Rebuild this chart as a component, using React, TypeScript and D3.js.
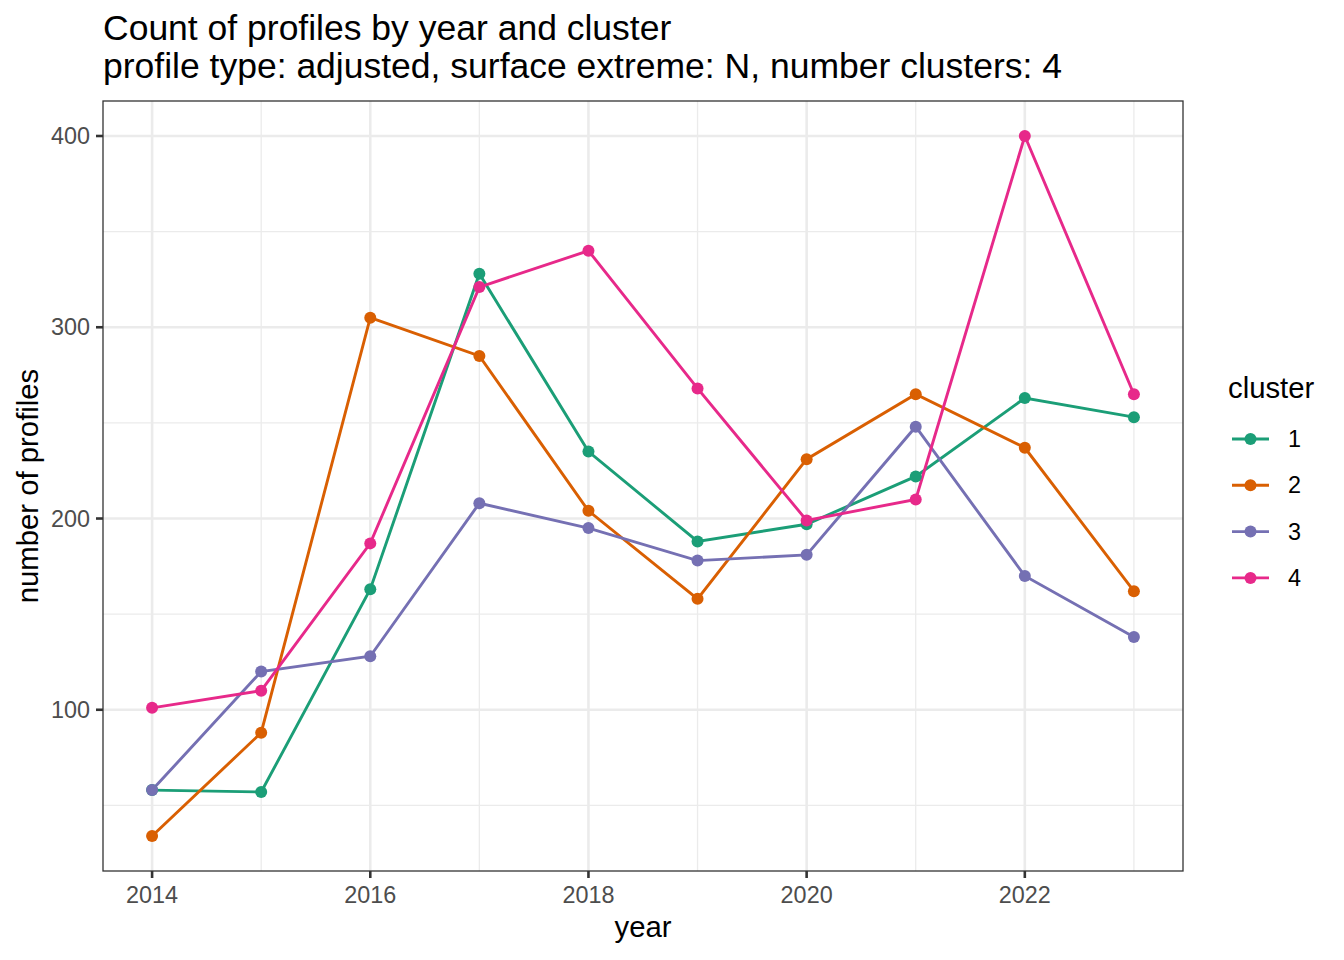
import React, { useEffect, useRef } from "react";
import * as d3 from "d3";

// values
const years = [2014, 2015, 2016, 2017, 2018, 2019, 2020, 2021, 2022, 2023];
const clusters = ["1", "2", "3", "4"];
const cluster1 = [58, 57, 163, 328, 235, 188, 197, 222, 263, 253];
const cluster2 = [34, 88, 305, 285, 204, 158, 231, 265, 237, 162];
const cluster3 = [58, 120, 128, 208, 195, 178, 181, 248, 170, 138];
const cluster4 = [101, 110, 187, 321, 340, 268, 199, 210, 400, 265];
const clusterColors = ["#1B9E77", "#D95F02", "#7570B3", "#E7298A"];
const xBreaks = [2014, 2016, 2018, 2020, 2022];
const xMinor = [2015, 2017, 2019, 2021, 2023];
const yBreaks = [100, 200, 300, 400];
const yMinor = [50, 150, 250, 350];

const W = 1344;
const H = 960;
const FONT = "'Liberation Sans', Arial, Helvetica, sans-serif";

export default function App() {
  const svgRef = useRef<SVGSVGElement>(null);

  useEffect(() => {
    document.body.style.margin = "0";
    const svg = d3.select(svgRef.current);
    svg.selectAll("*").remove();

    const panel = { left: 103, right: 1183, top: 101, bottom: 871 };
    const series = [cluster1, cluster2, cluster3, cluster4];

    // ggplot style expansion of the ranges
    const xMin = d3.min(years)!;
    const xMax = d3.max(years)!;
    const xPad = (xMax - xMin) * 0.05;
    const all = series.flat();
    const yMin = d3.min(all)!;
    const yMax = d3.max(all)!;
    const yPad = (yMax - yMin) * 0.05;

    const x = d3
      .scaleLinear()
      .domain([xMin - xPad, xMax + xPad])
      .range([panel.left, panel.right]);
    const y = d3
      .scaleLinear()
      .domain([yMin - yPad, yMax + yPad])
      .range([panel.bottom, panel.top]);

    svg.append("rect").attr("width", W).attr("height", H).attr("fill", "#fff");

    const grid = svg.append("g");
    grid
      .selectAll(".xminor")
      .data(xMinor)
      .enter()
      .append("line")
      .attr("x1", (d) => x(d))
      .attr("x2", (d) => x(d))
      .attr("y1", panel.top)
      .attr("y2", panel.bottom)
      .attr("stroke", "#EBEBEB")
      .attr("stroke-width", 1.3);
    grid
      .selectAll(".yminor")
      .data(yMinor)
      .enter()
      .append("line")
      .attr("y1", (d) => y(d))
      .attr("y2", (d) => y(d))
      .attr("x1", panel.left)
      .attr("x2", panel.right)
      .attr("stroke", "#EBEBEB")
      .attr("stroke-width", 1.3);
    grid
      .selectAll(".xmajor")
      .data(xBreaks)
      .enter()
      .append("line")
      .attr("x1", (d) => x(d))
      .attr("x2", (d) => x(d))
      .attr("y1", panel.top)
      .attr("y2", panel.bottom)
      .attr("stroke", "#EBEBEB")
      .attr("stroke-width", 2.6);
    grid
      .selectAll(".ymajor")
      .data(yBreaks)
      .enter()
      .append("line")
      .attr("y1", (d) => y(d))
      .attr("y2", (d) => y(d))
      .attr("x1", panel.left)
      .attr("x2", panel.right)
      .attr("stroke", "#EBEBEB")
      .attr("stroke-width", 2.6);

    const line = d3
      .line<number>()
      .x((d, i) => x(years[i]))
      .y((d) => y(d));

    // lines first, then points (layer order like geom_line + geom_point)
    series.forEach((s, k) => {
      svg
        .append("path")
        .attr("d", line(s))
        .attr("fill", "none")
        .attr("stroke", clusterColors[k])
        .attr("stroke-width", 2.9);
    });
    series.forEach((s, k) => {
      svg
        .append("g")
        .selectAll("circle")
        .data(s)
        .enter()
        .append("circle")
        .attr("cx", (d, i) => x(years[i]))
        .attr("cy", (d) => y(d))
        .attr("r", 6)
        .attr("fill", clusterColors[k]);
    });

    // panel border
    svg
      .append("rect")
      .attr("x", panel.left)
      .attr("y", panel.top)
      .attr("width", panel.right - panel.left)
      .attr("height", panel.bottom - panel.top)
      .attr("fill", "none")
      .attr("stroke", "#333333")
      .attr("stroke-width", 1.3);

    // axes
    const xAxis = svg.append("g");
    xAxis
      .selectAll("line")
      .data(xBreaks)
      .enter()
      .append("line")
      .attr("x1", (d) => x(d))
      .attr("x2", (d) => x(d))
      .attr("y1", panel.bottom)
      .attr("y2", panel.bottom + 7)
      .attr("stroke", "#333333")
      .attr("stroke-width", 2.6);
    xAxis
      .selectAll("text")
      .data(xBreaks)
      .enter()
      .append("text")
      .attr("x", (d) => x(d))
      .attr("y", 903)
      .attr("text-anchor", "middle")
      .attr("font-size", 23.4)
      .attr("fill", "#4D4D4D")
      .text((d) => String(d));

    const yAxis = svg.append("g");
    yAxis
      .selectAll("line")
      .data(yBreaks)
      .enter()
      .append("line")
      .attr("y1", (d) => y(d))
      .attr("y2", (d) => y(d))
      .attr("x1", panel.left - 7)
      .attr("x2", panel.left)
      .attr("stroke", "#333333")
      .attr("stroke-width", 2.6);
    yAxis
      .selectAll("text")
      .data(yBreaks)
      .enter()
      .append("text")
      .attr("x", panel.left - 13)
      .attr("y", (d) => y(d) + 8)
      .attr("text-anchor", "end")
      .attr("font-size", 23.4)
      .attr("fill", "#4D4D4D")
      .text((d) => String(d));

    // axis titles
    svg
      .append("text")
      .attr("x", (panel.left + panel.right) / 2)
      .attr("y", 937)
      .attr("text-anchor", "middle")
      .attr("font-size", 29.3)
      .attr("fill", "#000")
      .text("year");
    svg
      .append("text")
      .attr("transform", `translate(38, ${(panel.top + panel.bottom) / 2}) rotate(-90)`)
      .attr("text-anchor", "middle")
      .attr("font-size", 29.3)
      .attr("fill", "#000")
      .text("number of profiles");

    // title
    svg
      .append("text")
      .attr("x", panel.left)
      .attr("y", 40)
      .attr("font-size", 35.5)
      .attr("fill", "#000")
      .text("Count of profiles by year and cluster");
    svg
      .append("text")
      .attr("x", panel.left)
      .attr("y", 78)
      .attr("font-size", 35.5)
      .attr("fill", "#000")
      .text("profile type: adjusted, surface extreme: N, number clusters: 4");

    // legend
    const legend = svg.append("g");
    legend
      .append("text")
      .attr("x", 1228)
      .attr("y", 398)
      .attr("font-size", 29.3)
      .attr("fill", "#000")
      .text("cluster");
    const keys = legend
      .selectAll(".key")
      .data(clusters)
      .enter()
      .append("g")
      .attr("transform", (d, i) => `translate(0, ${439 + i * 46.3})`);
    keys
      .append("line")
      .attr("x1", 1232)
      .attr("x2", 1269)
      .attr("stroke", (d, i) => clusterColors[i])
      .attr("stroke-width", 2.9);
    keys
      .append("circle")
      .attr("cx", 1250.5)
      .attr("r", 6)
      .attr("fill", (d, i) => clusterColors[i]);
    keys
      .append("text")
      .attr("x", 1288)
      .attr("y", 8)
      .attr("font-size", 23.4)
      .attr("fill", "#000")
      .text((d) => d);
  }, []);

  return (
    <svg
      ref={svgRef}
      width={W}
      height={H}
      style={{ display: "block", fontFamily: FONT }}
    />
  );
}
